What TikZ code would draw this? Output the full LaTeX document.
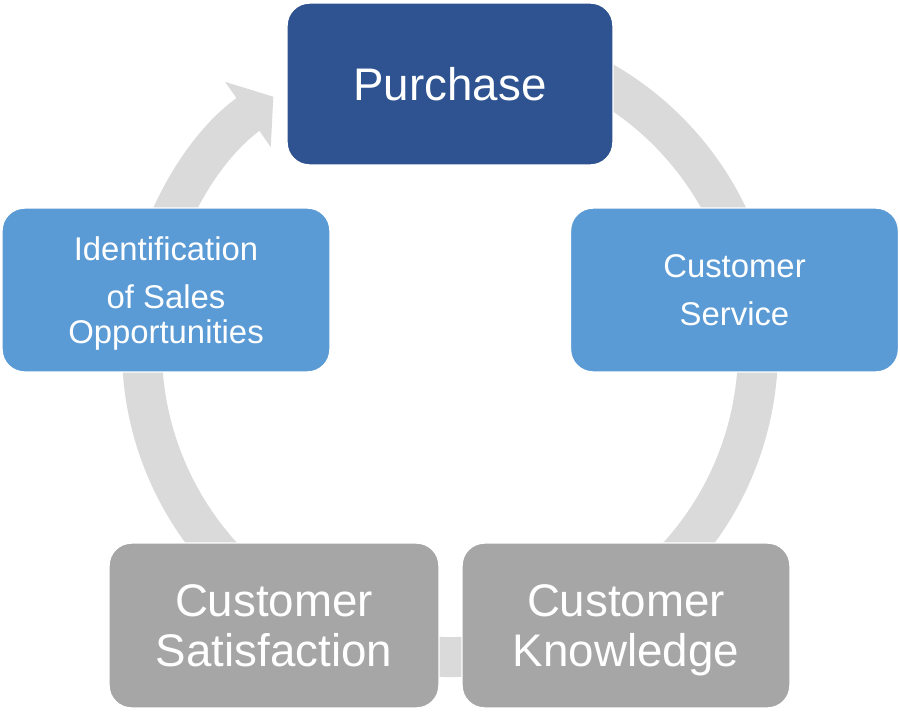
\documentclass[tikz,border=0pt]{standalone}
\usepackage{fontspec}
\setmainfont{Liberation Sans}
\usetikzlibrary{arrows.meta}
\definecolor{darkblue}{HTML}{2E5390}
\definecolor{midblue}{HTML}{5B9BD5}
\definecolor{boxgray}{HTML}{A6A6A6}
\definecolor{ringgray}{HTML}{DADADA}
\begin{document}
\begin{tikzpicture}[x=0.02cm, y=-0.02cm,
      box/.style={draw=white, line width=0.8pt, rounded corners=0.45cm,
                  text=white, align=center, inner sep=0pt, text depth=0pt},
      topbox/.style={box, fill=darkblue, minimum width=6.52cm, minimum height=3.24cm,
                     font=\fontsize{26}{30}\selectfont},
      sidebox/.style={box, fill=midblue, minimum width=6.56cm, minimum height=3.28cm,
                      font=\fontsize{18.7}{27.2}\selectfont},
      lowbox/.style={box, fill=boxgray, minimum width=6.6cm, minimum height=3.3cm,
                     font=\fontsize{26}{28.4}\selectfont}]
    \useasboundingbox (0,0) rectangle (900,720);
    % cycle ring behind the boxes
    \draw[ringgray, line width=0.8cm, -{Triangle[width=1.56cm, length=0.62cm]}]
      (450,349) ++(-80:308) arc[start angle=-80, end angle=235, radius=308];
    \node[topbox] (purchase) at (450,84) {Purchase};
    \node[sidebox] (service) at (734.5,290) {Customer\\Service};
    \node[lowbox, minimum width=6.56cm] (knowledge) at (626,625.5) {Customer\\Knowledge};
    \node[lowbox] (satisfaction) at (274,625.5) {Customer\\Satisfaction};
    \node[sidebox, font=\fontsize{18.7}{19.8}\selectfont] (identification) at (166,290)
      {Identification\\[8pt] of Sales\\Opportunities};
  \end{tikzpicture}
\end{document}
